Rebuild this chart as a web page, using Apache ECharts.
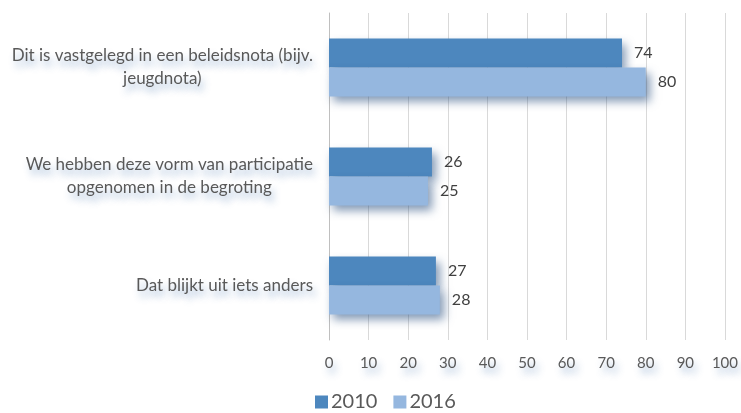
<!DOCTYPE html>
<html>
<head>
<meta charset="utf-8">
<script src="https://cdn.jsdelivr.net/npm/echarts@6/dist/echarts.min.js"></script>
<style>
  html, body { margin: 0; padding: 0; background: #fff; }
  #chart { width: 741px; height: 413px; }
</style>
</head>
<body>
<div id="chart"></div>
<script>
// categorieën (van boven naar beneden)
const categories = [
  'Dit is vastgelegd in een beleidsnota (bijv.\njeugdnota)',
  'We hebben deze vorm van participatie\nopgenomen in de begroting',
  'Dat blijkt uit iets anders'
];
const values2010 = [74, 26, 27];
const values2016 = [80, 25, 28];
const seriesNames = ['2010', '2016'];

const FONT = 'Lato, "Open Sans", sans-serif';
const textShadow = {
  textShadowColor: 'rgba(60, 110, 170, 0.45)',
  textShadowBlur: 7,
  textShadowOffsetX: 3,
  textShadowOffsetY: 6
};
const barShadow = {
  shadowColor: 'rgba(30, 70, 120, 0.55)',
  shadowBlur: 9,
  shadowOffsetX: 4,
  shadowOffsetY: 5
};

const chart = echarts.init(document.getElementById('chart'));

const option = {
  animation: false,
  textStyle: { fontFamily: FONT },
  grid: { left: 329, right: 13, top: 13, bottom: 73 },
  legend: {
    data: seriesNames,
    bottom: -4,
    left: 310,
    itemWidth: 13,
    itemHeight: 13,
    itemGap: 16,
    icon: 'rect',
    textStyle: { fontSize: 20, color: '#595959', fontFamily: FONT, padding: [0, 0, 0, -2] }
  },
  xAxis: {
    type: 'value',
    min: 0,
    max: 100,
    interval: 10,
    axisLine: { show: false },
    axisTick: { show: false },
    axisLabel: { color: '#595959', fontSize: 15, margin: 16, ...textShadow },
    splitLine: { lineStyle: { color: '#d9d9d9', width: 1 } }
  },
  yAxis: {
    type: 'category',
    inverse: true,
    data: categories,
    axisLine: { show: true, lineStyle: { color: '#bfbfbf', width: 1 } },
    axisTick: { show: false },
    axisLabel: {
      margin: 16,
      fontSize: 17,
      lineHeight: 23,
      color: '#595959',
      formatter: v => v.split('\n').map(l => '{c|' + l + '}').join('\n'),
      rich: {
        c: {
          align: 'center',
          fontSize: 17,
          lineHeight: 23,
          color: '#595959',
          fontFamily: FONT,
          ...textShadow
        }
      }
    }
  },
  series: [
    {
      name: seriesNames[0],
      type: 'bar',
      data: values2010,
      barWidth: 29,
      barGap: '0%',
      itemStyle: { color: '#4d87be', ...barShadow },
      label: { show: true, position: 'right', distance: 12, color: '#404040', fontSize: 16, fontFamily: FONT }
    },
    {
      name: seriesNames[1],
      type: 'bar',
      data: values2016,
      barWidth: 29,
      barGap: '0%',
      itemStyle: { color: '#95b7df', ...barShadow },
      label: { show: true, position: 'right', distance: 12, color: '#404040', fontSize: 16, fontFamily: FONT }
    }
  ]
};

chart.setOption(option);
</script>
</body>
</html>
